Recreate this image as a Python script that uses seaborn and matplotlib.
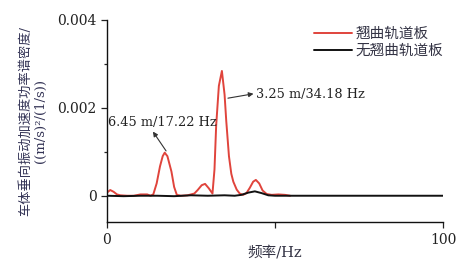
import matplotlib
matplotlib.use("Agg")
import matplotlib.pyplot as plt
from matplotlib.ticker import FixedLocator
import pandas as pd
import seaborn as sns

# red series: with warped track slab (freq Hz, PSD)
warp_freq = [0, 1, 2, 3, 4, 6, 8, 10, 12, 13, 13.8, 14.8, 15.8, 16.6, 17.2, 18, 19.2,
             20, 20.8, 22, 24, 26, 27, 28.2, 29.2, 30.3, 31.4, 32, 32.5, 33.3, 34.2,
             35, 35.5, 36.3, 37, 37.6, 38.6, 39.5, 40.5, 41.5, 42.5, 43.5, 44.3, 45.3,
             46.3, 47.5, 49, 51, 53, 54.5]
warp_psd = [0.00007, 0.00013, 0.00009, 0.00003, 0.00001, 0.0, 0.0, 0.00003, 0.00003,
            0.0, 0.00003, 0.00028, 0.00067, 0.0009, 0.00098, 0.0009, 0.00055,
            0.0002, 0.00002, 0.0, 0.00001, 0.00005, 0.00013, 0.00024, 0.00027,
            0.00017, 0.00005, 0.0006, 0.0016, 0.0025, 0.00284, 0.0023, 0.0017,
            0.0009, 0.0005, 0.00032, 0.00014, 0.00005, 0.00002, 0.00006, 0.00018,
            0.00032, 0.00036, 0.00028, 0.00012, 0.00004, 0.00002, 0.00003, 0.00002,
            0.0]

# black series: without warped track slab
flat_freq = [0, 5, 10, 15, 20, 25, 30, 35, 38, 40, 42, 44, 46, 48, 50, 60, 70, 80, 90, 100]
flat_psd = [0.0, -0.00001, 0.0, 0.0, -0.00001, 0.00001, 0.0, 0.00001, 0.0, 0.00002,
            0.00007, 0.0001, 0.00006, 0.00001, 0.0, 0.0, 0.0, 0.0, 0.0, 0.0]

labels = ["翘曲轨道板", "无翘曲轨道板"]

df = pd.concat([
    pd.DataFrame({"freq": warp_freq, "psd": warp_psd, "case": labels[0]}),
    pd.DataFrame({"freq": flat_freq, "psd": flat_psd, "case": labels[1]}),
])

sns.set_style("ticks")
plt.rcParams["font.family"] = ["DejaVu Serif", "Noto Sans CJK SC"]

fig = plt.figure(figsize=(4.75, 2.66), dpi=100)
ax = fig.add_axes([0.225, 0.165, 0.708, 0.76])

sns.lineplot(data=df, x="freq", y="psd", hue="case", hue_order=labels,
             palette=["#e0443c", "#111111"], linewidth=1.4, ax=ax, sort=False,
             estimator=None)

ax.set_xlim(0, 100)
ax.set_ylim(-0.0006, 0.004)
ax.xaxis.set_major_locator(FixedLocator([0, 50, 100]))
ax.set_xticklabels(["0", "", "100"])
ax.yaxis.set_major_locator(FixedLocator([0, 0.002, 0.004]))
ax.set_yticklabels(["0", "0.002", "0.004"])
ax.yaxis.set_minor_locator(FixedLocator([0.001, 0.003]))
ax.tick_params(axis="both", which="major", length=4, width=0.9, labelsize=10,
               colors="#222222", direction="out")
ax.tick_params(axis="y", which="minor", length=2.5, width=0.9, direction="out")
for s in ["top", "right"]:
    ax.spines[s].set_visible(False)
for s in ["left", "bottom"]:
    ax.spines[s].set_linewidth(1.0)
    ax.spines[s].set_color("#111111")

ax.set_xlabel("频率/Hz", fontsize=10.5, color="#333344", labelpad=-1)
ax.set_ylabel("车体垂向振动加速度功率谱密度/\n((m/s)²/(1/s))", fontsize=9.5,
              color="#333355", labelpad=7, linespacing=1.25)

ax.text(0.3, 0.00166, "6.45 m/17.22 Hz", fontsize=9.3, va="center", ha="left",
        color="#222222")
ax.annotate("", xy=(13.7, 0.00146), xytext=(17.6, 0.00102),
            arrowprops=dict(arrowstyle="-|>", color="#333333", lw=0.8,
                            mutation_scale=7, shrinkA=0, shrinkB=0))
ax.text(44.2, 0.0023, "3.25 m/34.18 Hz", fontsize=9.3, va="center", ha="left",
        color="#222222")
ax.annotate("", xy=(43.6, 0.00232), xytext=(36.0, 0.00222),
            arrowprops=dict(arrowstyle="-|>", color="#333333", lw=0.8,
                            mutation_scale=7, shrinkA=0, shrinkB=0))

leg = ax.legend(loc="upper right", bbox_to_anchor=(1.04, 1.03), frameon=False,
                fontsize=10.5, handlelength=2.6, handletextpad=0.25,
                labelspacing=0.2, title=None)
for t in leg.get_texts():
    t.set_color("#333344")

fig.savefig("out.png", dpi=100)
